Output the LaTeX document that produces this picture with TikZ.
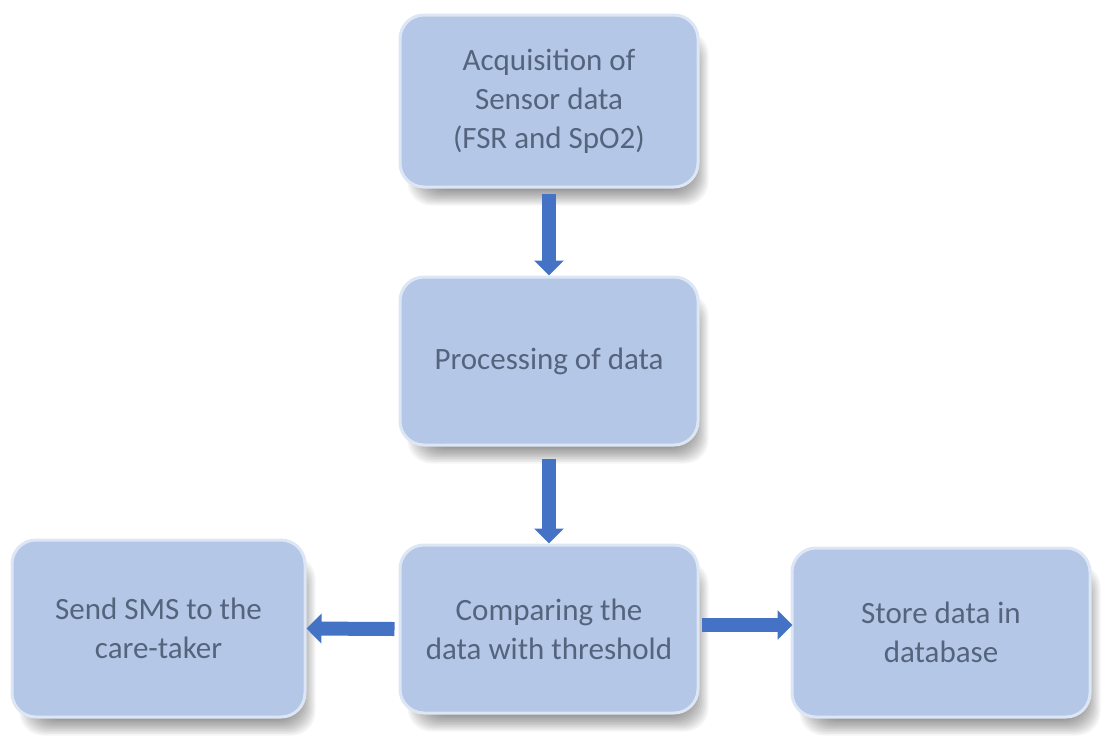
\documentclass[tikz,border=0pt]{standalone}
\usepackage{fontspec}
\setmainfont{Carlito}
\usetikzlibrary{arrows.meta,backgrounds,calc}
\definecolor{boxfill}{HTML}{B4C7E7}
\definecolor{boxtext}{HTML}{55647D}
\definecolor{arrowblue}{HTML}{4472C4}
\tikzset{
  flowbox/.style={rectangle, rounded corners=24pt, fill=boxfill,
    draw=white!55!boxfill, line width=3pt, text=boxtext, align=center,
    font=\fontsize{31}{39}\selectfont, inner sep=0pt},
  flowarrow/.style={draw=arrowblue, line width=14pt,
    -{Triangle[width=29pt,length=15pt]}}
}
\begin{document}
\begin{tikzpicture}[x=1pt,y=-1pt]
\useasboundingbox (0,0) rectangle (1115,742);

\node[flowbox, minimum width=298pt, minimum height=172pt] (top) at (549,101)
  {Acquisition of\\Sensor data\\(FSR and SpO2)};
\node[flowbox, minimum width=298pt, minimum height=168pt] (mid) at (549,361)
  {Processing of data};
\node[flowbox, minimum width=298pt, minimum height=168pt] (cmp) at (549,629)
  {Comparing the\\data with threshold};
\node[flowbox, minimum width=293pt, minimum height=177pt] (sms) at (158.5,628.5)
  {Send SMS to the\\care-taker};
\node[flowbox, minimum width=298pt, minimum height=169pt] (db) at (941,632.5)
  {Store data in\\database};

\begin{scope}[on background layer]
  \fill[white] (0,0) rectangle (1115,742);
  \foreach \n in {top,mid,cmp,sms,db}{
    \foreach \i in {0,...,11}{
      \fill[black, opacity=0.045, rounded corners=24pt]
        ($(\n.north west)+(9+1.6*\i,17+1.6*\i)$) rectangle
        ($(\n.south east)+(9-1.6*\i,17-1.6*\i)$);
    }
  }
\end{scope}

\draw[flowarrow] ([yshift=-5pt]top.south) -- (mid.north);
\draw[flowarrow] ([yshift=-12pt]mid.south) -- (cmp.north);
\draw[flowarrow] ([xshift=-4pt]cmp.west) -- (sms.east);
\draw[flowarrow] ([xshift=2pt,yshift=4pt]cmp.east) -- ([xshift=2pt,yshift=4pt]cmp.east -| db.west);
\end{tikzpicture}
\end{document}
